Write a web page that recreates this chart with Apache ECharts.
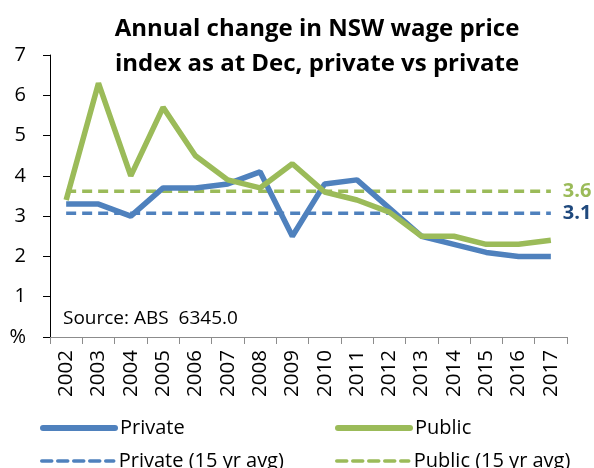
<!DOCTYPE html>
<html>
<head>
<meta charset="utf-8">
<script src="https://cdn.jsdelivr.net/npm/echarts@6/dist/echarts.min.js"></script>
<style>
  html, body { margin: 0; padding: 0; background: #fff; }
  #main { width: 594px; height: 468px; }
</style>
</head>
<body>
<div id="main"></div>
<script>
var years = ['2002', '2003', '2004', '2005', '2006', '2007', '2008', '2009',
             '2010', '2011', '2012', '2013', '2014', '2015', '2016', '2017'];
var privateVals = [3.3, 3.3, 3.0, 3.7, 3.7, 3.8, 4.1, 2.5, 3.8, 3.9, 3.2, 2.5, 2.3, 2.1, 2.0, 2.0];
var publicVals = [3.4, 6.3, 4.0, 5.7, 4.5, 3.9, 3.7, 4.3, 3.6, 3.4, 3.1, 2.5, 2.5, 2.3, 2.3, 2.4];
var privateAvg = [3.07, 3.07, 3.07, 3.07, 3.07, 3.07, 3.07, 3.07, 3.07, 3.07, 3.07, 3.07, 3.07, 3.07, 3.07, 3.07];
var publicAvg = [3.62, 3.62, 3.62, 3.62, 3.62, 3.62, 3.62, 3.62, 3.62, 3.62, 3.62, 3.62, 3.62, 3.62, 3.62, 3.62];
var yTicks = ['%', '1', '2', '3', '4', '5', '6', '7'];

var font = 'Open Sans';
var blue = '#4F81BD', green = '#9BBB59';

var myChart = echarts.init(document.getElementById('main'));

// one legend per item so each sits where the reference puts it
function legendItem(name, left, top, width) {
    return {
        data: [name],
        left: left,
        top: top,
        itemWidth: 72,
        itemHeight: 14,
        itemGap: 0,
        itemStyle: { opacity: 0 },
        lineStyle: { width: width, cap: 'round' },
        textStyle: { fontFamily: font, fontSize: 20, color: '#000' },
        selectedMode: false
    };
}

var option = {
    animation: false,
    title: {
        text: 'Annual change in NSW wage price\nindex as at Dec, private vs private',
        left: 312,
        textAlign: 'center',
        top: 7,
        textStyle: { fontFamily: font, fontSize: 24, fontWeight: 'bold', color: '#000', lineHeight: 35 }
    },
    legend: [
        legendItem('Private', 35, 413, 6),
        legendItem('Public', 330, 413, 6),
        legendItem('Private (15 yr avg)', 35, 446, 3.5),
        legendItem('Public (15 yr avg)', 330, 446, 3.5)
    ],
    grid: { left: 50, right: 27, top: 55, bottom: 131 },
    xAxis: {
        type: 'category',
        data: years,
        boundaryGap: true,
        axisLine: { lineStyle: { color: '#8c8c8c', width: 1 } },
        axisTick: { show: true, length: 7, lineStyle: { color: '#8c8c8c' } },
        axisLabel: { rotate: 90, fontFamily: font, fontSize: 20.5, color: '#000', margin: 13 }
    },
    yAxis: {
        type: 'value',
        min: 0,
        max: 7,
        interval: 1,
        axisLine: { show: true, lineStyle: { color: '#000', width: 1 } },
        axisTick: { show: true, length: 7, lineStyle: { color: '#000' } },
        splitLine: { show: false },
        axisLabel: {
            fontFamily: font, fontSize: 20, color: '#000', margin: 24,
            formatter: function (v) { return yTicks[v]; }
        }
    },
    graphic: [{
        type: 'text',
        left: 63,
        top: 309,
        style: { text: 'Source: ABS  6345.0', font: '19px "Open Sans"', fill: '#000' }
    }],
    series: [
        {
            name: 'Private (15 yr avg)', type: 'line', data: privateAvg, symbol: 'none',
            lineStyle: { color: blue, width: 3.5, type: [10, 6] }, itemStyle: { color: blue },
            endLabel: { show: true, formatter: '3.1', color: '#1F497D', fontWeight: 'bold',
                        fontFamily: font, fontSize: 20, distance: 12 }
        },
        {
            name: 'Public (15 yr avg)', type: 'line', data: publicAvg, symbol: 'none',
            lineStyle: { color: green, width: 3.5, type: [10, 6] }, itemStyle: { color: green },
            endLabel: { show: true, formatter: '3.6', color: green, fontWeight: 'bold',
                        fontFamily: font, fontSize: 20, distance: 12 }
        },
        {
            name: 'Private', type: 'line', data: privateVals, symbol: 'none',
            lineStyle: { color: blue, width: 5.5 }, itemStyle: { color: blue }
        },
        {
            name: 'Public', type: 'line', data: publicVals, symbol: 'none',
            lineStyle: { color: green, width: 5.5 }, itemStyle: { color: green }
        }
    ]
};

myChart.setOption(option);
</script>
</body>
</html>
